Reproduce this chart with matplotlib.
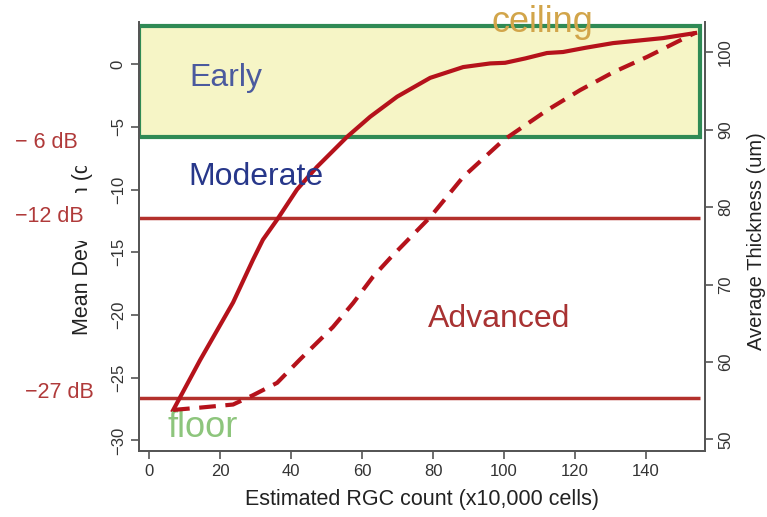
import matplotlib.pyplot as plt
from matplotlib.patches import Rectangle

plt.rcParams['font.family'] = ['Liberation Sans', 'DejaVu Sans']

# solid curve: mean deviation (dB) vs RGC count
rgc_md = [6.8, 14.4, 23.7, 29.3, 32.1, 36.1, 41.7, 47.3, 55.8, 62.3, 69.9,
          79.2, 88.5, 96.1, 100.3, 106.0, 112.1, 116.6, 123.0, 130.7, 144.8, 153.8]
md = [-27.6, -23.6, -19.0, -15.6, -14.0, -12.4, -10.0, -8.2, -5.8, -4.2, -2.6,
      -1.1, -0.24, 0.05, 0.1, 0.45, 0.88, 0.96, 1.3, 1.67, 2.07, 2.47]

# dashed curve: average thickness (um) vs RGC count
rgc_th = [6.8, 14.4, 23.7, 29.3, 36.1, 42.5, 51.8, 57.5, 63.1, 67.9, 79.2,
          88.5, 99.7, 112.1, 121.4, 130.7, 140.3, 153.8]
thick = [53.8, 54.1, 54.5, 55.7, 57.3, 60.3, 64.5, 67.6, 71.0, 73.4, 78.7,
         83.9, 88.6, 92.5, 95.1, 97.4, 99.4, 102.5]

stage_lines = [-12.3, -26.6]
stage_names = ["− 6 dB", "−12 dB", "−27 dB"]

red = "#b5121b"
axis_col = "#555555"

fig = plt.figure(figsize=(7.67, 5.17), dpi=100)
ax = fig.add_axes([0.1812, 0.1277, 0.738, 0.8297])
ax.set_xlim(-2.8, 156.6)
ax.set_ylim(-30.84, 3.35)

# early zone box
box = Rectangle((-2.8, -5.8), 158.0, 8.85, facecolor="#f6f5c6",
                edgecolor="#2f8a55", linewidth=3, zorder=1)
ax.add_patch(box)

ax.hlines(stage_lines, -2.8, 155.2, colors="#b3302c", linewidth=2.5, zorder=2)
ax.plot(rgc_md, md, color=red, linewidth=3, zorder=4, solid_joinstyle='round')

ax2 = ax.twinx()
ax2.set_ylim(48.5, 103.9)
ax2.plot(rgc_th, thick, color=red, linewidth=3, linestyle=(0, (4, 2.3)), zorder=4)

for a in (ax, ax2):
    a.spines['top'].set_visible(False)
    for s in ('left', 'right', 'bottom'):
        a.spines[s].set_color(axis_col)
        a.spines[s].set_linewidth(1.3)
    a.tick_params(colors=axis_col, labelcolor="#333333", labelsize=12,
                  length=6, width=1.2, direction='out')

ax.set_xticks(range(0, 141, 20))
ax.set_yticks(range(-30, 1, 5))
ax2.set_yticks(range(50, 101, 10))
plt.setp(ax.get_yticklabels(), rotation=90, va='center')
plt.setp(ax2.get_yticklabels(), rotation=90, va='center')

ax.set_xlabel("Estimated RGC count (x10,000 cells)", fontsize=15.5, color="#222222")
ax.set_ylabel("Mean Deviation (dB)", fontsize=15.5, color="#222222")
ax2.set_ylabel("Average Thickness (um)", fontsize=14.5, color="#222222")
ax.xaxis.set_label_coords(0.5, -0.088)
ax.yaxis.set_label_coords(-0.081, 0.497)
ax2.yaxis.set_label_coords(1.075, 0.49)

ax.text(11.5, -1.1, "Early", fontsize=23, color="#4b5a9e", va='center', zorder=5)
ax.text(11.0, -9.0, "Moderate", fontsize=23, color="#27378a", va='center', zorder=5)
ax.text(78.6, -20.3, "Advanced", fontsize=23, color="#a83232", va='center', zorder=5)
ax.text(110.7, 3.35, "ceiling", fontsize=26, color="#d2a54a", ha='center',
        va='center', zorder=5, clip_on=False)
ax.text(5.1, -29.0, "floor", fontsize=26, color="#8dc57c", va='center', zorder=5)

# stage labels left of the axis, boxed white over the y label
for name, xp, yp in zip(stage_names, [78, 84, 94], [142, 217, 392]):
    fig.text(xp / 767, 1 - yp / 517, name, fontsize=15.5, color="#b03a3a",
             ha='right', va='center', zorder=5,
             bbox=dict(facecolor='white', edgecolor='none', pad=10))

fig.savefig("out.png", dpi=100)
